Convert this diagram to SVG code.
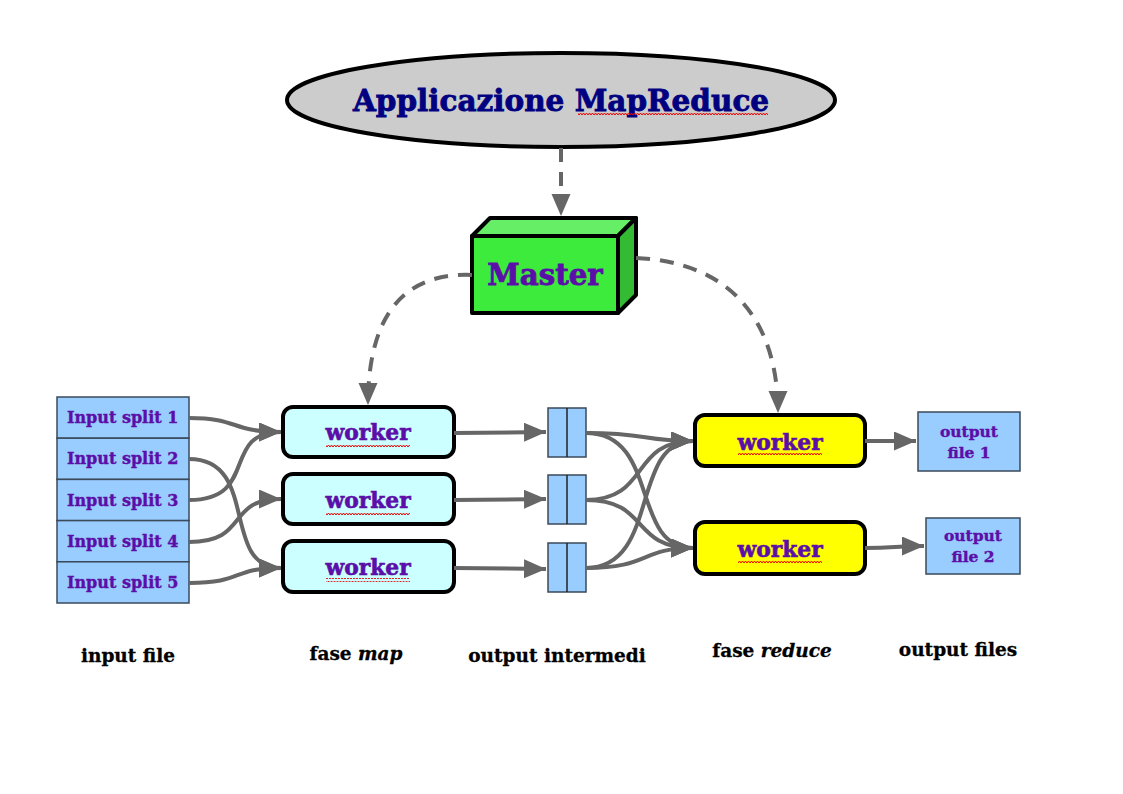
<svg xmlns="http://www.w3.org/2000/svg" width="1123" height="794" viewBox="0 0 1123 794">
<style>
text{font-family:"DejaVu Serif","Liberation Serif",serif;font-weight:bold}
.ttl{font-size:29.5px;fill:#000080;stroke:#000080;stroke-width:0.8}
.pur{fill:#5b0ea8;stroke:#5b0ea8}
.split{fill:#99ccff;stroke:#3a4a5a;stroke-width:1.5}
.sm{font-size:16px;stroke-width:0.4}
.of{font-size:15.5px;stroke-width:0.4}
.wk{font-size:21.8px;stroke-width:0.6}
.lab{font-size:18.5px;fill:#000;stroke:#000;stroke-width:0.3}
.map{fill:#ccffff;stroke:#000;stroke-width:4}
.red{fill:#ffff00;stroke:#000;stroke-width:4}
.con{fill:none;stroke:#666;stroke-width:4}
.dash{fill:none;stroke:#666;stroke-width:4;stroke-dasharray:14 10}
</style>
<defs>
<marker id="ah" markerUnits="userSpaceOnUse" markerWidth="24" markerHeight="20" refX="22" refY="9.5" orient="auto">
<path d="M0,0 L22,9.5 L0,19 z" fill="#666"/>
</marker>
<pattern id="wave" width="6" height="4" patternUnits="userSpaceOnUse">
<path d="M0,3 L1.5,1 L3,3 L4.5,1 L6,3" fill="none" stroke="#e00" stroke-width="1"/>
</pattern>
</defs>

<g id="app">
<ellipse cx="561" cy="100" rx="274" ry="47" fill="#cccccc" stroke="#000" stroke-width="4"/>
<text class="ttl" x="561" y="111" text-anchor="middle">Applicazione MapReduce</text>
<rect x="578" y="113" width="190" height="4" fill="url(#wave)"/>
</g>

<g id="master">
<polygon points="472,236 490,218 636,218 618,236" fill="#66ee66" stroke="#000" stroke-width="4" stroke-linejoin="round"/>
<polygon points="618,236 636,218 636,295 618,313" fill="#33bb33" stroke="#000" stroke-width="4" stroke-linejoin="round"/>
<rect x="472" y="236" width="146" height="77" fill="#3deb3d" stroke="#000" stroke-width="4" stroke-linejoin="round"/>
<text class="pur" x="545" y="285" text-anchor="middle" font-size="29.3" stroke-width="0.8">Master</text>
</g>

<g id="inputsplits">
<rect class="split" x="57" y="397" width="132" height="41.2"/>
<rect class="split" x="57" y="438.2" width="132" height="41.2"/>
<rect class="split" x="57" y="479.4" width="132" height="41.2"/>
<rect class="split" x="57" y="520.6" width="132" height="41.2"/>
<rect class="split" x="57" y="561.8" width="132" height="41.2"/>
<text class="pur sm" x="67" y="423">Input split 1</text>
<text class="pur sm" x="67" y="464">Input split 2</text>
<text class="pur sm" x="67" y="506">Input split 3</text>
<text class="pur sm" x="67" y="547">Input split 4</text>
<text class="pur sm" x="67" y="588">Input split 5</text>
</g>

<g id="map1">
<rect class="map" x="283" y="407" width="171" height="50" rx="10"/>
<text class="pur wk" x="368" y="440" text-anchor="middle">worker</text>
<rect x="326" y="443" width="84" height="4" fill="url(#wave)"/>
</g>
<g id="map2">
<rect class="map" x="283" y="474" width="171" height="50" rx="10"/>
<text class="pur wk" x="368" y="508" text-anchor="middle">worker</text>
<rect x="326" y="511" width="84" height="4" fill="url(#wave)"/>
</g>
<g id="map3">
<rect class="map" x="283" y="541" width="171" height="51" rx="10"/>
<text class="pur wk" x="368" y="575" text-anchor="middle">worker</text>
<rect x="326" y="578" width="84" height="4" fill="url(#wave)"/>
</g>

<g id="inter1">
<rect class="split" x="548" y="408" width="38" height="49"/>
<line x1="567" y1="408" x2="567" y2="457" stroke="#222" stroke-width="1.5"/>
</g>
<g id="inter2">
<rect class="split" x="548" y="475" width="38" height="49"/>
<line x1="567" y1="475" x2="567" y2="524" stroke="#222" stroke-width="1.5"/>
</g>
<g id="inter3">
<rect class="split" x="548" y="543" width="38" height="49"/>
<line x1="567" y1="543" x2="567" y2="592" stroke="#222" stroke-width="1.5"/>
</g>

<g id="reduce1">
<rect class="red" x="695" y="415" width="170" height="51" rx="10"/>
<text class="pur wk" x="780" y="450" text-anchor="middle">worker</text>
<rect x="738" y="453" width="84" height="4" fill="url(#wave)"/>
</g>
<g id="reduce2">
<rect class="red" x="695" y="522" width="170" height="52" rx="10"/>
<text class="pur wk" x="780" y="557" text-anchor="middle">worker</text>
<rect x="738" y="560" width="84" height="4" fill="url(#wave)"/>
</g>

<g id="out1">
<rect class="split" x="918" y="412" width="102" height="59"/>
<text class="pur of" x="969" y="437" text-anchor="middle">output</text>
<text class="pur of" x="969" y="458" text-anchor="middle">file 1</text>
</g>
<g id="out2">
<rect class="split" x="926" y="518" width="94" height="56"/>
<text class="pur of" x="973" y="541" text-anchor="middle">output</text>
<text class="pur of" x="973" y="562" text-anchor="middle">file 2</text>
</g>

<g id="labels">
<text class="lab" x="128" y="662" text-anchor="middle">input file</text>
<text class="lab" x="356" y="660" text-anchor="middle">fase <tspan font-style="italic">map</tspan></text>
<text class="lab" x="557" y="662" text-anchor="middle">output intermedi</text>
<text class="lab" x="772" y="657" text-anchor="middle">fase <tspan font-style="italic">reduce</tspan></text>
<text class="lab" x="958" y="656" text-anchor="middle">output files</text>
</g>

<g id="connectors">
<path class="dash" d="M561,148 L561,216" marker-end="url(#ah)"/>
<path class="dash" d="M472,275 C400,272 368,320 368,405" marker-end="url(#ah)"/>
<path class="dash" d="M636,258 C730,262 778,320 778,413" marker-end="url(#ah)"/>

<path class="con" d="M189,418 C240,418 230,432 281,432" marker-end="url(#ah)"/>
<path class="con" d="M189,459 C260,459 220,568 281,568" marker-end="url(#ah)"/>
<path class="con" d="M189,500 C260,500 220,432 281,432" marker-end="url(#ah)"/>
<path class="con" d="M189,542 C250,542 225,499 281,499" marker-end="url(#ah)"/>
<path class="con" d="M189,583 C245,583 230,568 281,568" marker-end="url(#ah)"/>

<path class="con" d="M454,433 L546,432" marker-end="url(#ah)"/>
<path class="con" d="M454,500 L546,499" marker-end="url(#ah)"/>
<path class="con" d="M454,568 L546,569" marker-end="url(#ah)"/>

<path class="con" d="M586,433 C650,433 640,441 693,441" marker-end="url(#ah)"/>
<path class="con" d="M586,433 C660,433 630,548 693,548" marker-end="url(#ah)"/>
<path class="con" d="M586,500 C650,500 630,441 693,441" marker-end="url(#ah)"/>
<path class="con" d="M586,500 C650,500 630,548 693,548" marker-end="url(#ah)"/>
<path class="con" d="M586,568 C660,568 630,441 693,441" marker-end="url(#ah)"/>
<path class="con" d="M586,568 C650,568 640,548 693,548" marker-end="url(#ah)"/>

<path class="con" d="M865,441 L916,441" marker-end="url(#ah)"/>
<path class="con" d="M865,548 C895,548 895,546 924,546" marker-end="url(#ah)"/>
</g>
</svg>
